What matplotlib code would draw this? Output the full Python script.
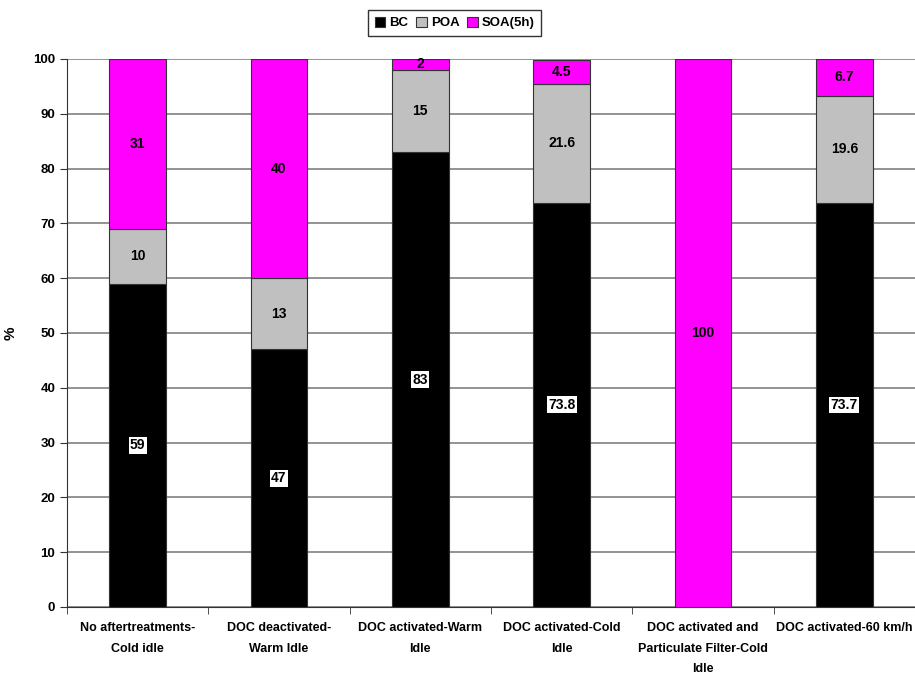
import matplotlib
matplotlib.use("Agg")
import matplotlib.pyplot as plt
import numpy as np

categories = ["No aftertreatments-\nCold idle",
              "DOC deactivated-\nWarm Idle",
              "DOC activated-Warm\nIdle",
              "DOC activated-Cold\nIdle",
              "DOC activated and\nParticulate Filter-Cold\nIdle",
              "DOC activated-60 km/h"]
bc = [59, 47, 83, 73.8, 0, 73.7]
poa = [10, 13, 15, 21.6, 0, 19.6]
soa = [31, 40, 2, 4.5, 100, 6.7]
series_names = ["BC", "POA", "SOA(5h)"]
series_colors = ["#000000", "#c0c0c0", "#ff00ff"]

plt.rcParams['font.family'] = ['Liberation Sans', 'DejaVu Sans']
plt.rcParams['font.weight'] = 'bold'


def main():
    fig = plt.figure(figsize=(9.15, 6.81), dpi=100)
    ax = fig.add_axes([0.0732, 0.1087, 0.9268, 0.8047])

    x = np.arange(len(categories))
    bottom = np.zeros(len(categories))
    for name, vals, col in zip(series_names, [bc, poa, soa], series_colors):
        vals = np.array(vals, dtype=float)
        ax.bar(x, vals, 0.4, bottom=bottom, color=col, edgecolor="#333333",
               linewidth=0.8, label=name, zorder=3)
        for xi, v, b in zip(x, vals, bottom):
            if v <= 0:
                continue
            if name == "BC":
                ax.text(xi, b + v / 2, f"{v:g}", ha="center", va="center", fontsize=10,
                        fontweight="bold", color="black", zorder=5,
                        bbox=dict(boxstyle="square,pad=0.1", facecolor="white", edgecolor="none"))
            else:
                ax.text(xi, b + v / 2, f"{v:g}", ha="center", va="center", fontsize=10,
                        fontweight="bold", color="black", zorder=5)
        bottom = bottom + vals

    ax.set_xlim(-0.5, len(categories) - 0.5)
    ax.set_ylim(0, 100)
    ax.set_yticks(np.arange(0, 101, 10))
    ax.yaxis.grid(True, color="#808080", linewidth=1.2, zorder=0)
    ax.set_axisbelow(True)

    ax.set_xticks(x)
    ax.set_xticklabels(categories, fontsize=9, fontweight="bold", linespacing=1.95)
    ax.tick_params(axis="x", which="major", length=0, pad=11)
    ax.set_xticks(np.arange(-0.5, len(categories), 1.0), minor=True)
    ax.tick_params(axis="x", which="minor", length=5, direction="out", color="#333333")
    ax.tick_params(axis="y", length=5, direction="out", labelsize=9.5, color="#333333")
    for lab in ax.get_yticklabels():
        lab.set_fontweight("bold")

    ax.spines["top"].set_visible(False)
    ax.spines["right"].set_visible(False)
    ax.spines["left"].set_color("#333333")
    ax.spines["bottom"].set_color("#333333")

    ax.set_ylabel("%", fontsize=11, fontweight="bold")
    ax.yaxis.set_label_coords(-0.058, 0.5)

    leg = fig.legend(loc="upper center", bbox_to_anchor=(0.497, 0.995), ncol=3, fontsize=9.5,
                     frameon=True, fancybox=False, edgecolor="black", handlelength=0.8,
                     handleheight=0.8, handletextpad=0.3, columnspacing=0.6, borderpad=0.5)
    leg.get_frame().set_linewidth(1.0)

    fig.savefig("out.png", dpi=100)


if __name__ == "__main__":
    main()
